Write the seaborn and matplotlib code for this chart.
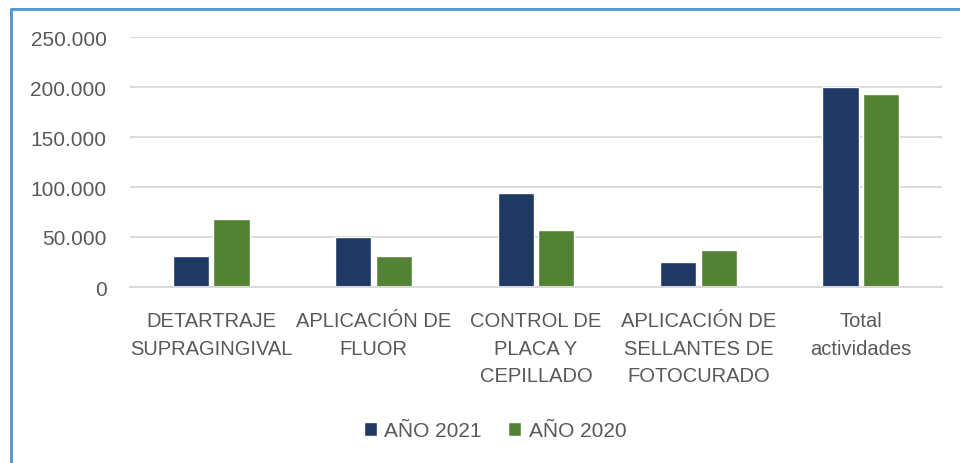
import matplotlib
matplotlib.use("Agg")
import matplotlib.pyplot as plt
import seaborn as sns
import pandas as pd
from matplotlib.ticker import FuncFormatter
from matplotlib.lines import Line2D

categories = ["DETARTRAJE\nSUPRAGINGIVAL", "APLICACIÓN DE\nFLUOR", "CONTROL DE\nPLACA Y\nCEPILLADO",
              "APLICACIÓN DE\nSELLANTES DE\nFOTOCURADO", "Total\nactividades"]
series = ["AÑO 2021", "AÑO 2020"]
values_2021 = [31000, 50000, 94000, 25000, 200000]
values_2020 = [68000, 31000, 57000, 37000, 193000]
yticks = [0, 50000, 100000, 150000, 200000, 250000]
colors = ["#203864", "#548235"]

df = pd.DataFrame({
    "cat": categories * 2,
    "serie": [series[0]] * len(categories) + [series[1]] * len(categories),
    "val": values_2021 + values_2020,
})

sns.set_theme(style="white")
plt.rcParams["font.family"] = ["Liberation Sans", "DejaVu Sans"]
txt = "#595959"

fig = plt.figure(figsize=(9.6, 4.64), dpi=100)
ax = fig.add_axes([130 / 960, 1 - 288 / 464, 812 / 960, 250 / 464])
sns.barplot(data=df, x="cat", y="val", hue="serie", palette=colors, width=0.5, gap=0.11,
            saturation=1, ax=ax, errorbar=None)

ax.set_ylim(0, 250000)
ax.set_yticks(yticks)
ax.yaxis.set_major_formatter(FuncFormatter(lambda v, p: "0" if v == 0 else f"{int(v):,}".replace(",", ".")))
ax.grid(axis="y", color="#D9D9D9", lw=1.3)
ax.set_axisbelow(True)
for s in ["left", "right", "top"]:
    ax.spines[s].set_visible(False)
ax.spines["bottom"].set_color("#D9D9D9")
ax.spines["bottom"].set_linewidth(1.5)
ax.tick_params(axis="y", length=0, pad=17, labelsize=15, labelcolor=txt)
ax.tick_params(axis="x", length=0, pad=17.5, labelsize=14.5, labelcolor=txt)
for lab in ax.get_xticklabels():
    lab.set_linespacing(1.55)
ax.set_xlabel("")
ax.set_ylabel("")

handles, labels = ax.get_legend_handles_labels()
ax.get_legend().remove()
leg = fig.legend(handles, labels, loc="center", bbox_to_anchor=(495 / 960, 1 - 432 / 464), ncol=2,
                 frameon=False, fontsize=15, handlelength=0.62, handleheight=0.62,
                 handletextpad=0.35, columnspacing=1.3)
for t in leg.get_texts():
    t.set_color(txt)

border = "#5B9BD5"
fig.add_artist(Line2D([11 / 960, 11 / 960], [0, 1 - 10 / 464], transform=fig.transFigure, color=border, lw=2.2))
fig.add_artist(Line2D([11 / 960, 1], [1 - 10 / 464, 1 - 10 / 464], transform=fig.transFigure, color=border, lw=2.2))

fig.savefig("out.png", dpi=100)
